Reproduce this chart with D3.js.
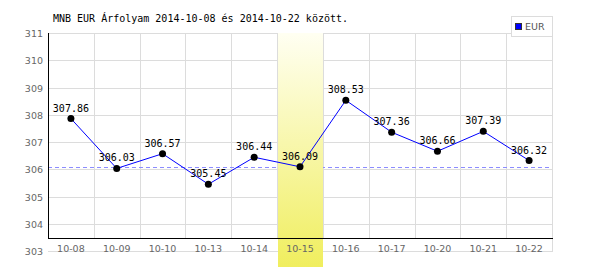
<!DOCTYPE html>
<html><head><meta charset="utf-8">
<script src="https://cdn.jsdelivr.net/npm/d3@7"></script>
<style>body{margin:0;background:#fff}svg{display:block}</style>
</head><body>
<svg id="c" width="600" height="270"></svg>
<script>
const title = "MNB EUR Árfolyam 2014-10-08 és 2014-10-22 között.";
const categories = ["10-08","10-09","10-10","10-13","10-14","10-15","10-16","10-17","10-20","10-21","10-22"];
const values = [307.86,306.03,306.57,305.45,306.44,306.09,308.53,307.36,306.66,307.39,306.32];
const yTicks = [303,304,305,306,307,308,309,310,311];
const highlight = "10-15";
const refValue = 306.09;
const seriesName = "EUR";

const svg = d3.select("#c");
const L = 48, R = 552, T = 33, axisY = 238;
const x = d3.scaleBand().domain(categories).range([L, R]).padding(0);
const y = d3.scaleLinear().domain([303, 311]).range([251, T]);
const cx = d => x(d) + x.bandwidth() / 2;

const defs = svg.append("defs");
const g = defs.append("linearGradient").attr("id","hl").attr("x1",0).attr("y1",0).attr("x2",0).attr("y2",1);
g.append("stop").attr("offset","0%").attr("stop-color","#fffff2");
g.append("stop").attr("offset","100%").attr("stop-color","#f0ee5e");

// horizontal gridlines
svg.selectAll(".hg").data(yTicks).enter().append("line")
  .attr("x1", L).attr("x2", R + 1)
  .attr("y1", d => Math.round(y(d)) + 0.5).attr("y2", d => Math.round(y(d)) + 0.5)
  .attr("stroke", "#dcdcdc").attr("stroke-width", 1);
// vertical gridlines
svg.selectAll(".vg").data(categories.slice(1)).enter().append("line")
  .attr("x1", d => Math.round(x(d)) + 0.5).attr("x2", d => Math.round(x(d)) + 0.5)
  .attr("y1", T).attr("y2", axisY)
  .attr("stroke", "#dcdcdc");
svg.append("line").attr("x1", R + 0.5).attr("x2", R + 0.5).attr("y1", T).attr("y2", Math.round(y(303)) + 1)
  .attr("stroke", "#dcdcdc");

// reference dashed line
svg.append("line").attr("x1", L).attr("x2", R)
  .attr("y1", Math.round(y(refValue)) + 0.5).attr("y2", Math.round(y(refValue)) + 0.5)
  .attr("stroke", "#8c8cff").attr("stroke-dasharray", "4,3");

// highlight band
svg.append("rect").attr("x", Math.round(x(highlight)) + 1).attr("y", T)
  .attr("width", Math.round(x.bandwidth()) - 1).attr("height", 270 - T - 3)
  .attr("fill", "url(#hl)");

// axes
svg.append("line").attr("x1", L + 0.5).attr("x2", L + 0.5).attr("y1", T).attr("y2", axisY + 1).attr("stroke", "#000");
svg.append("line").attr("x1", L).attr("x2", R + 1).attr("y1", axisY + 0.5).attr("y2", axisY + 0.5).attr("stroke", "#000");

// y labels
svg.selectAll(".yl").data(yTicks).enter().append("text")
  .attr("x", 43).attr("y", d => y(d) + 4)
  .attr("text-anchor", "end").attr("font-family", "DejaVu Sans").attr("font-size", "9.5px")
  .attr("fill", "#666").text(d => d);
// x labels
svg.selectAll(".xl").data(categories).enter().append("text")
  .attr("x", d => cx(d)).attr("y", 252)
  .attr("text-anchor", "middle").attr("font-family", "DejaVu Sans").attr("font-size", "9.5px")
  .attr("fill", "#666").text(d => d);

// line
const line = d3.line().x((d, i) => cx(categories[i])).y(d => y(d));
svg.append("path").datum(values).attr("d", line).attr("fill", "none").attr("stroke", "#0000ff").attr("stroke-width", 1);

// dots
svg.selectAll(".dot").data(values).enter().append("circle")
  .attr("cx", (d, i) => cx(categories[i])).attr("cy", d => y(d)).attr("r", 3.5).attr("fill", "#000");

// value labels
svg.selectAll(".vl").data(values).enter().append("text")
  .attr("x", (d, i) => cx(categories[i])).attr("y", d => y(d) - 7)
  .attr("text-anchor", "middle").attr("font-family", "DejaVu Sans Mono").attr("font-size", "10px")
  .attr("fill", "#000").text(d => d3.format(".2f")(d));

// title
svg.append("text").attr("x", 53).attr("y", 22).attr("font-family", "DejaVu Sans Mono")
  .attr("font-size", "10px").attr("fill", "#000").text(title);

// legend
svg.append("rect").attr("x", 511.5).attr("y", 16.5).attr("width", 41).attr("height", 20)
  .attr("fill", "#fff").attr("stroke", "#dcdcdc");
svg.append("rect").attr("x", 515.5).attr("y", 23.5).attr("width", 6).attr("height", 6)
  .attr("fill", "#0000ff").attr("stroke", "#333");
svg.append("text").attr("x", 525).attr("y", 30).attr("font-family", "DejaVu Sans").attr("font-size", "9.5px")
  .attr("fill", "#555").text(seriesName);
</script>
</body></html>
